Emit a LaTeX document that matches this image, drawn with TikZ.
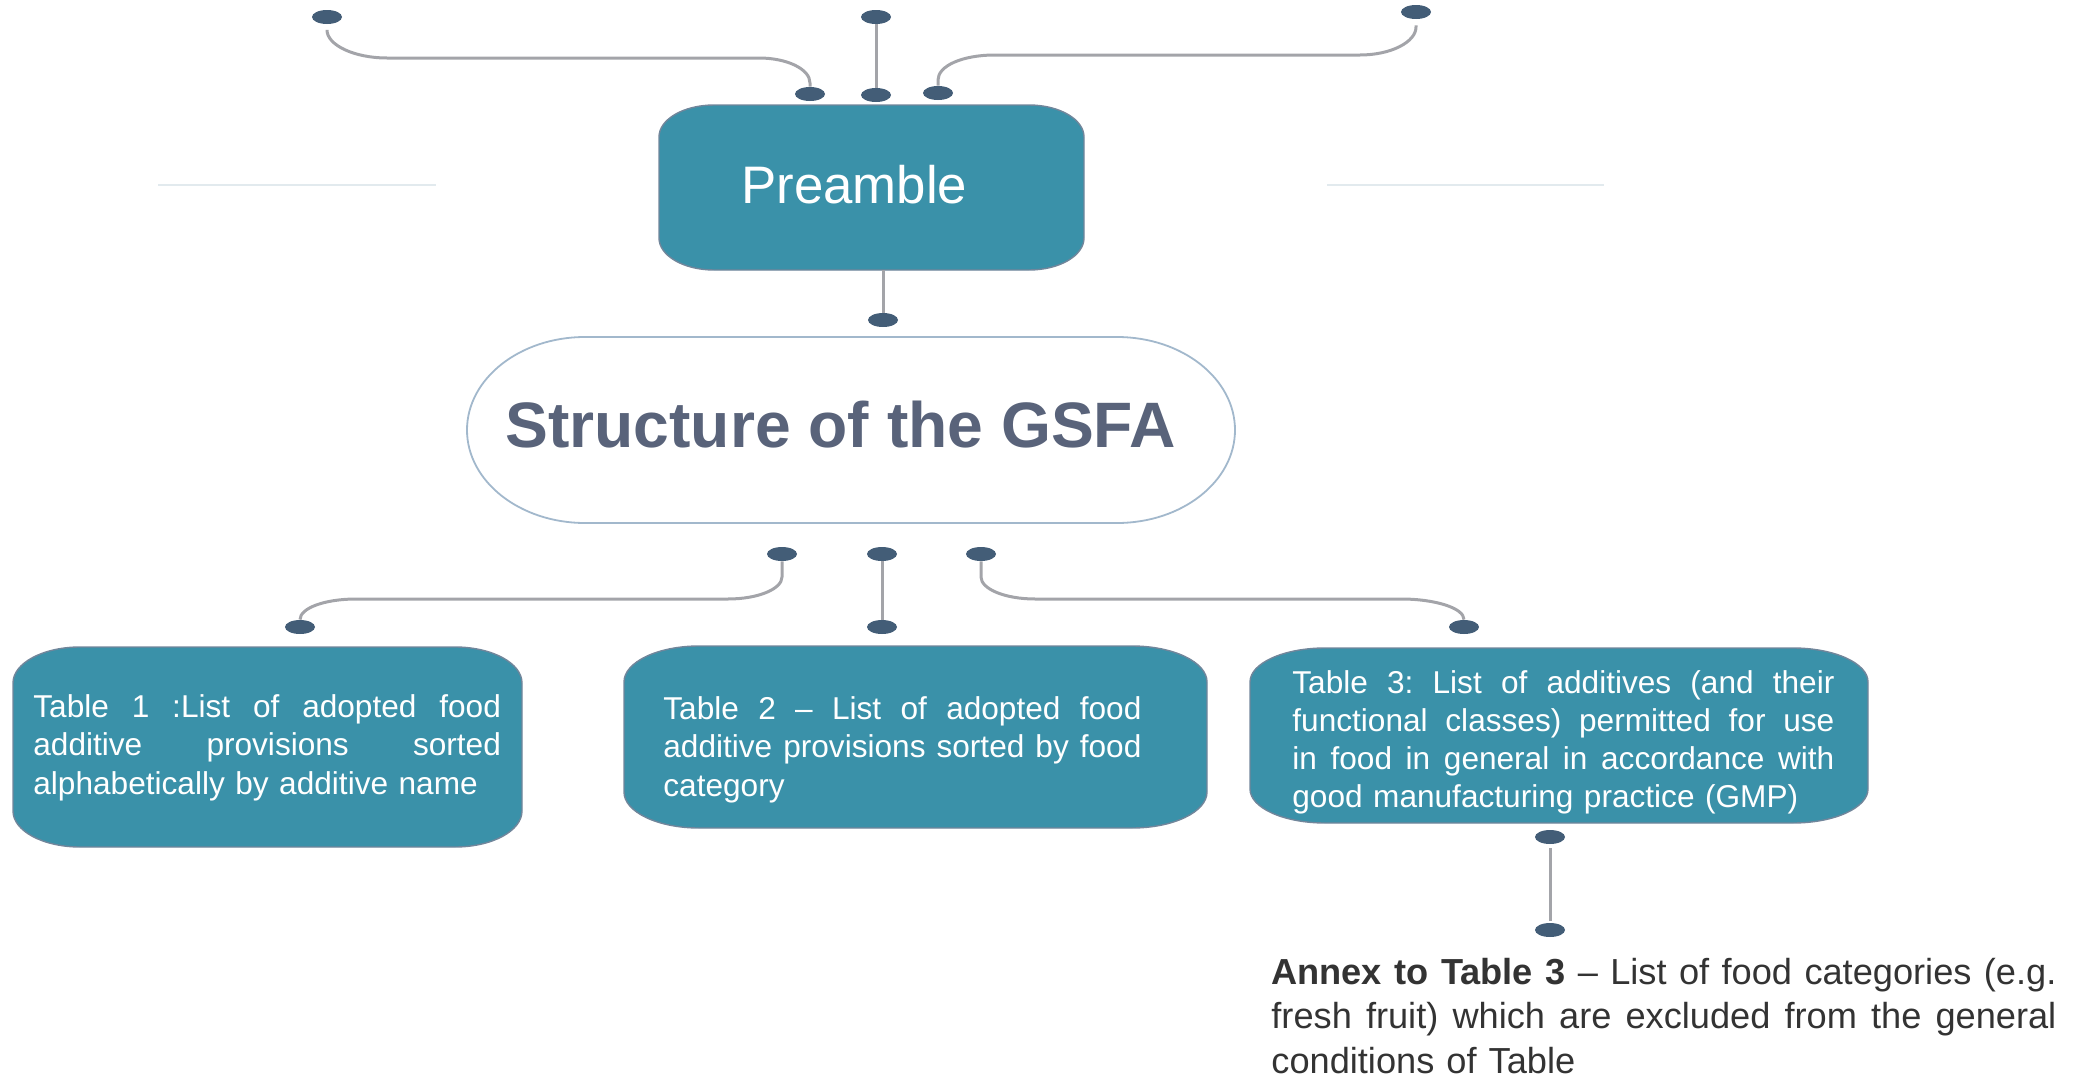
\documentclass[tikz,border=0pt]{standalone}
\usepackage{fontspec}
\setmainfont{Liberation Sans}
\usetikzlibrary{shapes.geometric}
\definecolor{boxfill}{HTML}{3A91A9}
\definecolor{boxline}{HTML}{71869B}
\definecolor{dotc}{HTML}{435D77}
\definecolor{connc}{HTML}{A3A4A9}
\definecolor{gsfaline}{HTML}{A2B8CC}
\definecolor{gsfatext}{HTML}{59637A}
\definecolor{annexc}{HTML}{333333}
\definecolor{faintc}{HTML}{E2EAEE}
% elliptical-corner box: style, x1,y1,x2,y2,rx,ry
\newcommand\ebox[7]{%
 \path[#1] (#2+#6,#3) -- (#4-#6,#3)
  .. controls (#4-0.4477*#6,#3) and (#4,#3+0.4477*#7) .. (#4,#3+#7)
  -- (#4,#5-#7)
  .. controls (#4,#5-0.4477*#7) and (#4-0.4477*#6,#5) .. (#4-#6,#5)
  -- (#2+#6,#5)
  .. controls (#2+0.4477*#6,#5) and (#2,#5-0.4477*#7) .. (#2,#5-#7)
  -- (#2,#3+#7)
  .. controls (#2,#3+0.4477*#7) and (#2+0.4477*#6,#3) .. (#2+#6,#3) -- cycle;}
% justified line of a given width
\newcommand\jl[2]{\leavevmode\hbox to #1{\frenchspacing\spaceskip=0.278em plus 1fil\relax #2}}
\begin{document}
\begin{tikzpicture}[x=0.5pt,y=-0.5pt,
  tealbox/.style={fill=boxfill,draw=boxline,line width=0.7pt},
  gsfabox/.style={fill=white,draw=gsfaline,line width=0.9pt},
  dotn/.style={ellipse,fill=dotc,minimum width=15pt,minimum height=7pt,inner sep=0pt},
  conn/.style={draw=connc,line width=1.5pt},
  tabtext/.style={anchor=base west,inner sep=0pt,text=white,align=left,
     font=\fontsize{15.8pt}{19.25pt}\selectfont},
  faint/.style={draw=faintc,line width=0.8pt}]
\useasboundingbox (0,0) rectangle (2085,1076);
% faint lines
\draw[faint] (158,185) -- (436,185);
\draw[faint] (1327,185) -- (1604,185);
% boxes
\ebox{tealbox}{659}{105}{1084}{270}{55}{32}
\ebox{gsfabox}{467}{337}{1235}{523}{118}{93}
\ebox{tealbox}{13}{647}{522}{847}{67}{36}
\ebox{tealbox}{624}{646}{1207}{828}{75}{36}
\ebox{tealbox}{1250}{648}{1868}{823}{75}{34}
% texts
\node[anchor=base west,inner sep=0pt,text=white,font=\fontsize{26.4pt}{30pt}\selectfont] (pre) at (741,203) {Preamble};
\node[anchor=base west,inner sep=0pt,text=gsfatext,font=\fontsize{32.1pt}{36pt}\selectfont\bfseries] (gsfa) at (505,447) {Structure of the GSFA};
\node[tabtext,text width=233.75pt] (tab1) at (33,717) {\jl{233.75pt}{Table 1 :List of adopted food}\\\jl{233.75pt}{additive provisions sorted}\\alphabetically by additive name};
\node[tabtext,text width=239pt] (tab2) at (663,719) {\jl{239pt}{Table 2 – List of adopted food}\\\jl{239pt}{additive provisions sorted by food}\\category};
\node[tabtext,text width=271pt,font=\fontsize{15.8pt}{19pt}\selectfont] (tab3) at (1292,693) {\jl{271pt}{Table 3: List of additives (and their}\\\jl{271pt}{functional classes) permitted for use}\\\jl{271pt}{in food in general in accordance with}\\good manufacturing practice (GMP)};
\node[anchor=base west,inner sep=0pt,text=annexc,align=left,text width=392.5pt,font=\fontsize{18.1pt}{22.25pt}\selectfont] (annex) at (1271,984) {\jl{392.5pt}{\textbf{Annex to Table 3} – List of food categories (e.g.}\\\jl{392.5pt}{fresh fruit) which are excluded from the general}\\conditions of Table};
% dots
\node[dotn] (tl) at (327,17) {};
\node[dotn] (tm) at (876,17) {};
\node[dotn] (tr) at (1416,12) {};
\node[dotn] (p1) at (810,94) {};
\node[dotn] (p2) at (876,95) {};
\node[dotn] (p3) at (938,93) {};
\node[dotn] (pb) at (883,320) {};
\node[dotn] (s1) at (782,554) {};
\node[dotn] (s2) at (882,554) {};
\node[dotn] (s3) at (981,554) {};
\node[dotn] (t1) at (300,627) {};
\node[dotn] (t2) at (882,627) {};
\node[dotn] (t3) at (1464,627) {};
\node[dotn] (a1) at (1550,837) {};
\node[dotn] (a2) at (1550,930) {};
\coordinate (prebot) at (883,270);
% connectors
\draw[conn,shorten <=3pt] (tl.south) -- (327,30) .. controls (327,45) and (354,58) .. (387,58) -- (759,58) .. controls (787,58) and (810,69) .. (810,83) -- (p1.north);
\draw[conn] (tm.south) -- (p2.north);
\draw[conn,shorten <=3pt] (tr.south) -- (1416,27) .. controls (1416,42) and (1391,55) .. (1360,55) -- (995,55) .. controls (962,55) and (938,66) .. (938,80) -- (p3.north);
\draw[conn] (prebot) -- (pb.north);
\draw[conn] (s1.south) -- (782,577) .. controls (782,589) and (758,599) .. (728,599) -- (356,599) .. controls (325,599) and (300,608) .. (t1.north);
\draw[conn] (s2.south) -- (t2.north);
\draw[conn] (s3.south) -- (981,577) .. controls (981,589) and (1005,599) .. (1035,599) -- (1401,599) .. controls (1435,599) and (1464,608) .. (t3.north);
\draw[conn,shorten <=2pt,shorten >=1pt] (a1.south) -- (a2.north);
\end{tikzpicture}
\end{document}
